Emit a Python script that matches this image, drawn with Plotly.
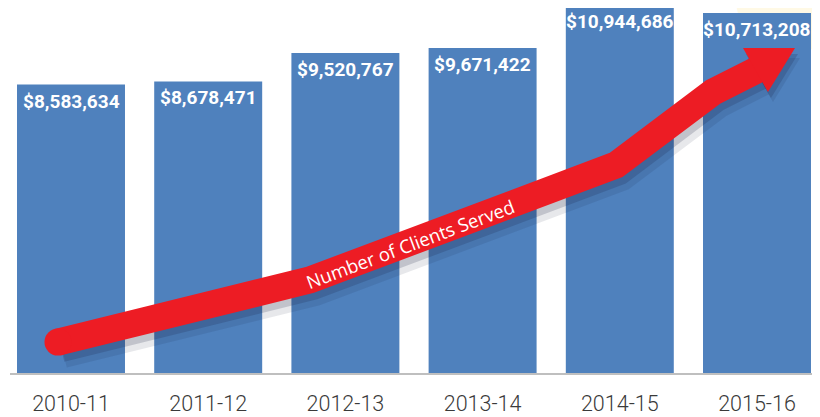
import plotly.graph_objects as go

# ---- data ----
years = ["2010-11", "2011-12", "2012-13", "2013-14", "2014-15", "2015-16"]
funding = [8583634, 8678471, 9520767, 9671422, 10944686, 10713208]
funding_labels = ["$8,583,634", "$8,678,471", "$9,520,767", "$9,671,422", "$10,944,686", "$10,713,208"]

# decorative trend arrow ("Number of Clients Served"), in category-index / value units
arrow_x = [-0.095, 1.742, 3.972, 4.679, 5.0]
arrow_y = [0.92e6, 2.77e6, 6.19e6, 8.36e6, 9.02e6]
head_x = [4.898, 5.277, 5.080, 4.898]
head_y = [9.67e6, 9.67e6, 8.36e6, 9.67e6]
arrow_text = "Number of Clients Served"
arrow_text_pos = (2.478, 3.84e6)

BLUE = "#4F81BD"
RED = "#ED1C24"

PX_X = 137.2      # pixels per category
PX_Y = 29760.0    # value units per pixel
Y_TOP = 365 * PX_Y

fig = go.Figure()

# faint glow behind top-right
fig.add_shape(type="circle", xref="x", yref="y",
              x0=4.85, x1=5.75, y0=9.6e6, y1=12.4e6,
              fillcolor="rgba(255,238,180,0.35)", line_width=0, layer="below")

fig.add_trace(go.Bar(x=list(range(len(years))), y=funding, marker_color=BLUE,
                     marker_line_width=0, hoverinfo="skip", showlegend=False))

# shadows
for (dx, dy, a, w) in [(5, 10, 0.10, 32), (3, 6, 0.18, 28)]:
    fig.add_trace(go.Scatter(x=[v + dx / PX_X for v in arrow_x],
                             y=[v - dy * PX_Y for v in arrow_y],
                             mode="lines", line=dict(color=f"rgba(20,30,60,{a})", width=w),
                             hoverinfo="skip", showlegend=False))
    fig.add_trace(go.Scatter(x=[v + dx / PX_X for v in head_x],
                             y=[v - dy * PX_Y for v in head_y],
                             mode="lines", fill="toself", fillcolor=f"rgba(20,30,60,{a})",
                             line=dict(width=0), hoverinfo="skip", showlegend=False))

# arrow shaft
fig.add_trace(go.Scatter(x=arrow_x, y=arrow_y, mode="lines",
                         line=dict(color=RED, width=27), hoverinfo="skip", showlegend=False))
fig.add_trace(go.Scatter(x=arrow_x[:1], y=arrow_y[:1], mode="markers",
                         marker=dict(color=RED, size=27, line_width=0),
                         hoverinfo="skip", showlegend=False))
fig.add_trace(go.Scatter(x=head_x, y=head_y, mode="lines", fill="toself", fillcolor=RED,
                         line=dict(width=0, color=RED), hoverinfo="skip", showlegend=False))

fig.add_annotation(x=arrow_text_pos[0], y=arrow_text_pos[1], text=arrow_text, showarrow=False,
                   textangle=-20.5, font=dict(family="Open Sans, sans-serif", size=18.5, color="white"))

for i, (v, lab) in enumerate(zip(funding, funding_labels)):
    ya = min(v, Y_TOP)
    shift = -3 + (v - ya) / PX_Y
    fig.add_annotation(x=i, y=ya, text=lab, showarrow=False,
                       yanchor="top", yshift=shift,
                       font=dict(family="Roboto, sans-serif", size=19, color="white", weight="bold"))

fig.update_layout(
    width=820, height=417,
    margin=dict(l=2, r=0, t=0, b=52),
    paper_bgcolor="white", plot_bgcolor="rgba(0,0,0,0)",
    bargap=0.213,
    xaxis=dict(range=[-0.4446, 5.5175], tickmode="array", tickvals=list(range(len(years))),
               ticktext=years, showline=True, linecolor="#BFBFBF", linewidth=1.5,
               showgrid=False, zeroline=False, ticks="", ticklabelstandoff=10,
               tickfont=dict(family="Roboto, sans-serif", size=21.5, color="#3a3a3a", weight=300),
               fixedrange=True),
    yaxis=dict(range=[0, Y_TOP], visible=False, fixedrange=True),
)

fig.write_html("out.html")
